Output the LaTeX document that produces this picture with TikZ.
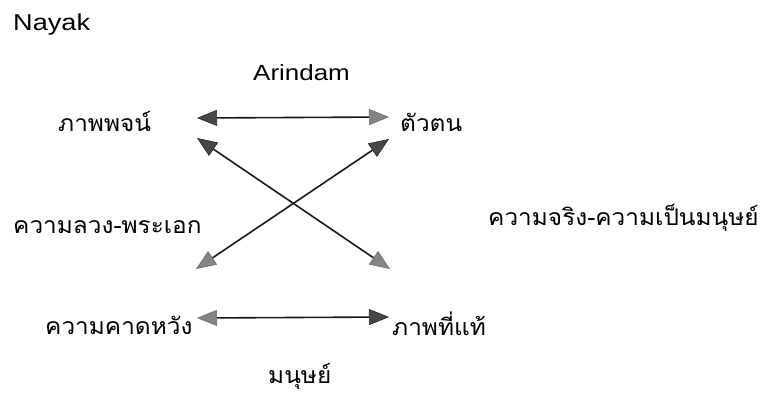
\documentclass[tikz,border=0pt]{standalone}
\usepackage{fontspec}
\setmainfont{Liberation Sans}[FakeStretch=1.18]
\newfontfamily\thaifont[Script=Thai,FakeStretch=1.06]{Loma}
\usetikzlibrary{arrows.meta}
\tikzset{
  lat/.style={inner sep=0pt, anchor=base west, font=\fontsize{22}{26}\selectfont},
  thai/.style={inner sep=0pt, anchor=base west, font=\thaifont\fontsize{23}{27}\selectfont},
  dhead/.tip={Triangle[length=20pt,width=16pt,fill=black!72,color=black!85,line width=0.6pt]},
  lhead/.tip={Triangle[length=20pt,width=16pt,fill=black!48,color=black!58,line width=0.6pt]},
  link/.style={line width=1.6pt, black!90}
}
\begin{document}
\begin{tikzpicture}[x=1pt,y=-1pt]
\useasboundingbox (0,0) rectangle (767,394);
\node[lat, font=\fontsize{23}{27}\selectfont] (nayak) at (13,30) {Nayak};
\node[lat] (arindam) at (253,80) {Arindam};
\node[thai] (image) at (58,131) {ภาพพจน์};
\node[thai] (self) at (400,131) {ตัวตน};
\node[thai] (illusion) at (13,233) {ความลวง-พระเอก};
\node[thai] (reality) at (488,225) {ความจริง-ความเป็นมนุษย์};
\node[thai] (expect) at (45,334) {ความคาดหวัง};
\node[thai] (true) at (392,335) {ภาพที่แท้};
\node[thai] (human) at (268,383) {มนุษย์};
% arrow end points
\coordinate (tl) at (197,118);
\coordinate (tr) at (389,117);
\coordinate (dul) at (197,138);
\coordinate (dur) at (389,139);
\coordinate (dll) at (196,269);
\coordinate (dlr) at (390,269);
\coordinate (bl) at (197,318);
\coordinate (br) at (389,317);
\draw[link, dhead-lhead] (tl) -- (tr);
\draw[link, dhead-lhead] (dul) -- (dlr);
\draw[link, dhead-lhead] (dur) -- (dll);
\draw[link, lhead-dhead] (bl) -- (br);
\end{tikzpicture}
\end{document}
